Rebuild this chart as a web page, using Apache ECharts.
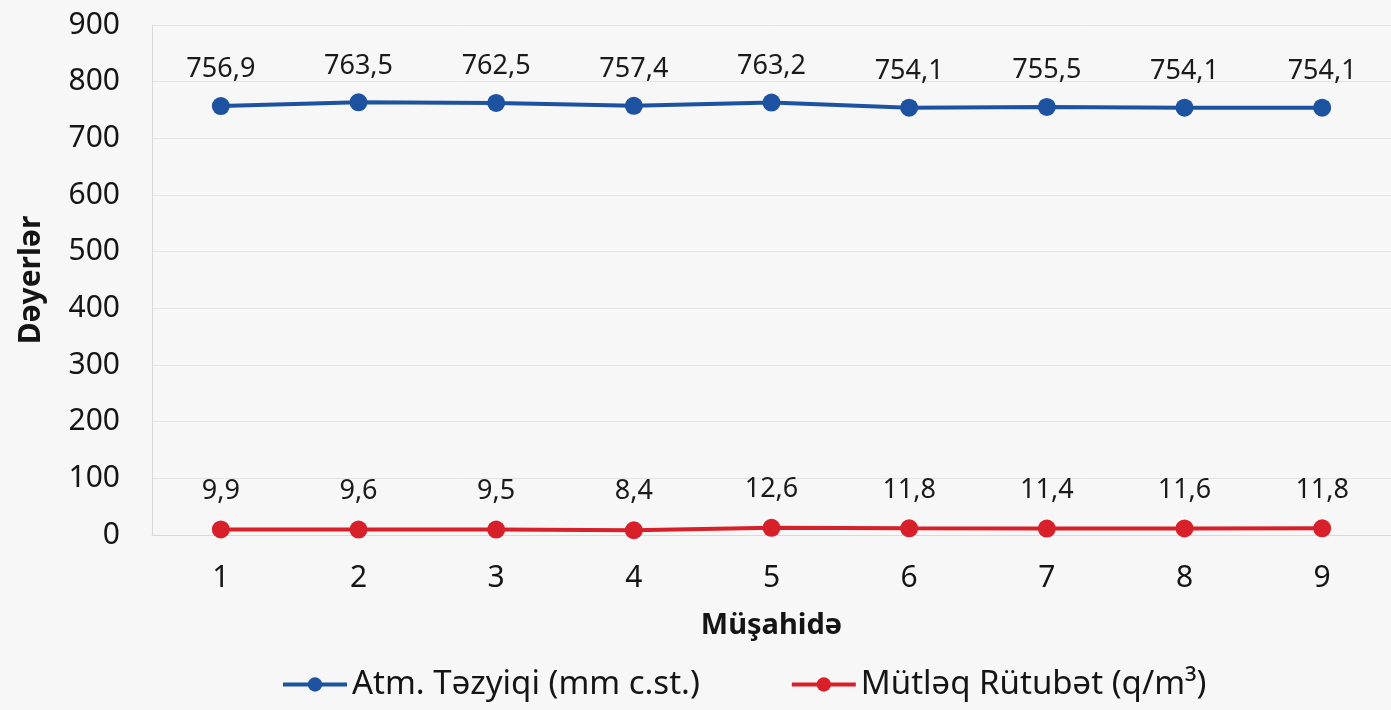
<!DOCTYPE html>
<html><head><meta charset="utf-8">
<script src="https://cdn.jsdelivr.net/npm/echarts@6/dist/echarts.min.js"></script>
<style>html,body{margin:0;padding:0;background:#f7f7f7;}#c{width:1391px;height:710px;}</style>
</head><body><div id="c"></div>
<script>
const categories = ['1','2','3','4','5','6','7','8','9'];
const pressure = [756.9, 763.5, 762.5, 757.4, 763.2, 754.1, 755.5, 754.1, 754.1];
const humidity = [9.9, 9.6, 9.5, 8.4, 12.6, 11.8, 11.4, 11.6, 11.8];
const seriesNames = ['Atm. Təzyiqi (mm c.st.)', 'Mütləq Rütubət (q/m³)'];
const fmt = v => String(v.value).replace('.', ',');
const font = 'Noto Sans';
const chart = echarts.init(document.getElementById('c'));
chart.setOption({
  backgroundColor: '#f7f7f7',
  textStyle: {fontFamily: font},
  grid: {left: 152, top: 25, width: 1246, height: 510},
  legend: {
    top: 663, left: 276, itemWidth: 64, itemHeight: 18, itemGap: 90,
    lineStyle: {width: 4},
    textStyle: {fontSize: 33, color: '#151515', fontFamily: font},
    data: seriesNames
  },
  xAxis: {
    type: 'category', data: categories, boundaryGap: true,
    name: 'Müşahidə', nameLocation: 'middle', nameGap: 76,
    nameTextStyle: {fontSize: 29, fontWeight: 'bold', color: '#151515'},
    axisLine: {show: true, lineStyle: {color: '#d9d9d9', width: 1}},
    axisTick: {show: false},
    axisLabel: {fontSize: 30, color: '#151515', margin: 28},
    splitLine: {show: false}
  },
  yAxis: {
    type: 'value', min: 0, max: 900, interval: 100,
    name: 'Dəyerlər', nameLocation: 'middle', nameGap: 106, nameRotate: 90,
    nameTextStyle: {fontSize: 30, fontWeight: 'bold', color: '#151515'},
    axisLine: {show: true, lineStyle: {color: '#d9d9d9', width: 1}},
    axisTick: {show: false},
    axisLabel: {fontSize: 30, color: '#151515', margin: 32},
    splitLine: {show: true, lineStyle: {color: '#e4e4e4', width: 1}}
  },
  series: [
    {
      name: seriesNames[0], type: 'line', data: pressure,
      symbol: 'circle', symbolSize: 18,
      itemStyle: {color: '#1d52a0'}, lineStyle: {width: 4, color: '#1d52a0'},
      label: {show: true, position: 'top', distance: 14, fontSize: 27, color: '#1a1a1a', formatter: fmt}
    },
    {
      name: seriesNames[1], type: 'line', data: humidity,
      symbol: 'circle', symbolSize: 18,
      itemStyle: {color: '#d7202a'}, lineStyle: {width: 4, color: '#d7202a'},
      label: {show: true, position: 'top', distance: 16, fontSize: 27, color: '#1a1a1a', formatter: fmt}
    }
  ]
});
</script></body></html>
